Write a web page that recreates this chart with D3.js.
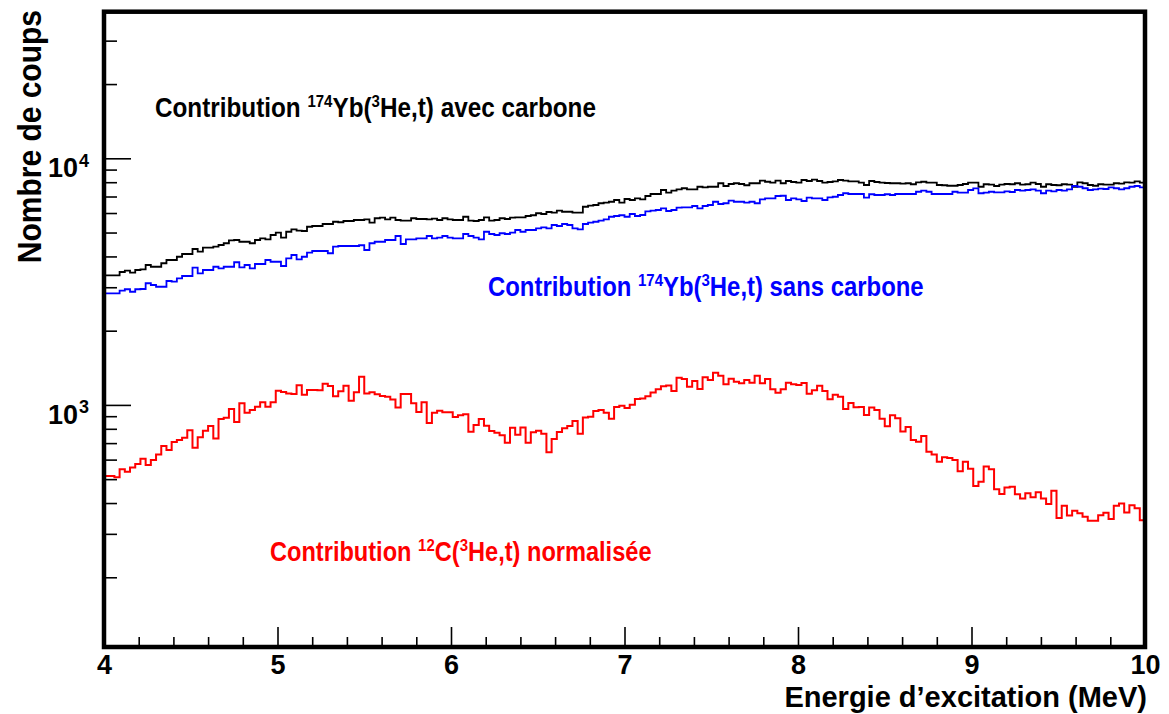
<!DOCTYPE html>
<html><head><meta charset="utf-8">
<script src="https://cdn.jsdelivr.net/npm/d3@7"></script>
<style>
body{margin:0;background:#fff}
text{font-family:"Liberation Sans",Arial,Helvetica,sans-serif;font-weight:bold}
</style>
</head><body><svg id="c" width="1169" height="714"></svg>
<script>
// ---- data ----
const energyMin = 4, energyMax = 10, nBins = 200;
const xTickValues = [4, 5, 6, 7, 8, 9, 10];
const yMajorTicks = [1000, 10000];
const yMinorTicks = [200,300,400,500,600,700,800,900,2000,3000,4000,5000,6000,7000,8000,9000,20000,30000];
const labelBlack = ["Contribution ", "174", "Yb(", "3", "He,t) avec carbone"];
const labelBlue  = ["Contribution ", "174", "Yb(", "3", "He,t) sans carbone"];
const labelRed   = ["Contribution ", "12", "C(", "3", "He,t) normalisée"];

const blackCounts = [
3354,3354,3354,3459,3501,3436,3524,3548,3693,3633,
3633,3753,3869,3869,3989,4093,4093,4288,4180,4342,
4342,4380,4451,4524,4650,4664,4589,4589,4524,4664,
4736,4695,4887,4992,4772,5038,5154,5087,5072,5278,
5315,5315,5415,5415,5531,5503,5569,5569,5621,5621,
5659,5480,5714,5745,5659,5745,5621,5584,5584,5714,
5674,5674,5659,5690,5621,5714,5659,5621,5621,5795,
5584,5569,5621,5764,5584,5621,5714,5674,5745,5764,
5764,5835,5875,5986,5945,6057,6017,6131,6072,6072,
6017,6017,6362,6423,6466,6572,6606,6667,6775,6606,
6839,6775,6880,6821,7033,7166,7166,7438,7252,7390,
7488,7562,7488,7488,7668,7627,7668,7668,7921,7722,
7867,7921,7867,7774,7921,7921,8113,8035,7962,8113,
7921,8090,8015,7962,8166,8090,8189,8090,7962,8015,
8068,8166,8113,8068,8068,7962,7794,8090,8015,7962,
7941,7921,7921,7888,7921,7848,7994,8035,7962,7962,
7794,7774,7741,7741,7794,7867,7962,7962,7668,7848,
7815,7722,7815,7867,7848,7921,7815,7848,7962,7867,
7668,7848,7794,7774,7848,7815,7668,7994,7921,7794,
7741,7848,7815,7815,7921,7888,7994,7962,8068,7962];

const blueCounts = [
2835,2835,2835,2905,2944,2877,2944,2951,3114,3064,
3014,3014,3180,3159,3260,3332,3332,3602,3418,3524,
3524,3633,3575,3633,3633,3788,3614,3693,3575,3727,
3727,3869,3807,3807,3659,3929,4054,3895,3989,4142,
4208,4208,4208,4121,4380,4410,4410,4410,4410,4440,
4248,4524,4589,4589,4664,4664,4841,4493,4695,4695,
4736,4736,4841,4736,4772,4841,4772,4736,4736,4933,
4841,4772,4695,5038,4933,4887,4966,4933,4992,5120,
5038,5120,5120,5199,5250,5199,5365,5315,5415,5365,
5199,5154,5415,5480,5531,5584,5659,5795,5835,5875,
5795,5945,5835,5890,6097,6131,6171,6267,6114,6171,
6308,6328,6328,6406,6267,6406,6466,6667,6527,6572,
6731,6667,6667,6606,6667,6572,6821,6880,6880,7033,
7051,6775,6880,6821,6712,6925,6880,6880,6775,6947,
6984,7099,7215,7166,7166,7166,6925,7148,7099,7099,
7148,7099,7166,7166,7166,7166,7319,7390,7319,7166,
7166,7166,7166,7319,7252,7252,7438,7554,7215,7252,
7319,7282,7282,7349,7300,7438,7390,7438,7488,7390,
7215,7390,7349,7438,7390,7488,7722,7668,7562,7438,
7488,7529,7508,7627,7562,7488,7562,7668,7722,7627];

const redCounts = [
515,515,509,548,536,557,576,605,571,598,
630,682,656,708,721,736,789,671,739,786,
822,731,876,887,963,853,1015,929,953,984,
1025,984,1025,1142,1128,1113,1107,1201,1100,1149,
1149,1146,1219,1193,1083,1135,1196,1040,1125,1301,
1113,1125,1104,1087,1080,1053,975,1107,1107,1015,
935,1025,845,929,947,933,933,893,907,916,
778,829,876,824,784,771,753,703,807,757,
809,703,774,786,764,642,728,776,804,822,
861,764,890,895,944,953,929,879,981,993,
972,1002,1056,1062,1083,1123,1157,1190,1199,1138,
1289,1273,1185,1250,1160,1294,1262,1350,1312,1213,
1277,1242,1224,1262,1230,1312,1224,1273,1157,1120,
1157,1230,1213,1204,1227,1110,1146,1196,1138,1054,
1100,1080,963,1018,978,981,910,976,953,879,
820,907,882,780,813,720,709,748,646,630,
588,613,609,598,538,588,551,469,488,562,
548,455,435,462,466,434,417,438,422,442,
417,396,449,348,390,356,372,364,352,339,
339,357,365,345,390,398,366,392,381,341];

// ---- layout ----
const L = 104, R = 1145, T = 11.7, B = 647;
const svg = d3.select("#c");
const x = d3.scaleLinear().domain([energyMin, energyMax]).range([L, R]);
const y = d3.scaleLog().domain([104.3, 39310]).range([B, T]);

svg.append("clipPath").attr("id","clip").append("rect")
  .attr("x", L).attr("y", T).attr("width", R - L).attr("height", B - T);

const binW = (energyMax - energyMin) / nBins;
function histPath(counts) {
  const pts = counts.map((c, i) => [energyMin + i * binW, c]);
  pts.push([energyMax, counts[counts.length - 1]]);
  return d3.line().x(d => x(d[0])).y(d => y(d[1])).curve(d3.curveStepAfter)(pts);
}
const gH = svg.append("g").attr("clip-path", "url(#clip)");
gH.append("path").attr("d", histPath(blackCounts)).attr("fill","none").attr("stroke","#000").attr("stroke-width",1.8);
gH.append("path").attr("d", histPath(blueCounts)).attr("fill","none").attr("stroke","#0000ff").attr("stroke-width",1.8);
gH.append("path").attr("d", histPath(redCounts)).attr("fill","none").attr("stroke","#ff0000").attr("stroke-width",2);

// ---- axes ----
const xMinor = d3.range(0, 31).map(i => energyMin + i * 0.2).filter(v => Math.abs(v - Math.round(v)) > 1e-6);
const gxMinor = svg.append("g").attr("transform", `translate(0,${B})`)
  .call(d3.axisBottom(x).tickValues(xMinor).tickSizeInner(-10).tickSizeOuter(0).tickFormat(""));
const gxMajor = svg.append("g").attr("transform", `translate(0,${B})`)
  .call(d3.axisBottom(x).tickValues(xTickValues).tickSizeInner(-20).tickSizeOuter(0).tickPadding(11).tickFormat(d3.format("d")));
const gyMinor = svg.append("g").attr("transform", `translate(${L},0)`)
  .call(d3.axisLeft(y).tickValues(yMinorTicks).tickSizeInner(-13).tickSizeOuter(0).tickFormat(""));
const gyMajor = svg.append("g").attr("transform", `translate(${L},0)`)
  .call(d3.axisLeft(y).tickValues(yMajorTicks).tickSizeInner(-27).tickSizeOuter(0).tickFormat(""));
[gxMinor, gxMajor, gyMinor, gyMajor].forEach(g => {
  g.select(".domain").remove();
  g.selectAll(".tick line").attr("stroke", "#000").attr("stroke-width", 1.6);
});
gxMajor.selectAll(".tick text")
  .attr("font-size", 27).attr("fill", "#000").attr("y", 27).attr("dy", 0)
  .style("font-family", '"Liberation Sans",Arial,sans-serif').style("font-weight", "bold");

// y tick labels 10^n
yMajorTicks.forEach(v => {
  const yy = y(v);
  svg.append("text").attr("x", 78).attr("y", yy + 19).attr("text-anchor", "end")
    .attr("font-size", 27).attr("fill", "#000").text("10");
  svg.append("text").attr("x", 79).attr("y", yy + 8.5).attr("font-size", 18).attr("fill", "#000")
    .text(String(Math.round(Math.log10(v))));
});

// frame
svg.append("rect").attr("x", L).attr("y", T).attr("width", R - L).attr("height", B - T)
  .attr("fill", "none").attr("stroke", "#000").attr("stroke-width", 4.5);

// axis titles
svg.append("text").attr("x", 1147).attr("y", 707).attr("text-anchor", "end")
  .attr("font-size", 29).attr("fill", "#000").text("Energie d’excitation (MeV)");
svg.append("text").attr("transform", "translate(41,10) rotate(-90) scale(1,1.1)").attr("text-anchor", "end")
  .attr("font-size", 30).attr("fill", "#000").text("Nombre de coups");

// annotations
function label(parts, x0, y0, color, fs) {
  const t = svg.append("text").attr("transform", `translate(${x0},${y0}) scale(1,1.15)`)
    .attr("fill", color).attr("font-size", fs);
  parts.forEach((p, i) => {
    const sup = (i % 2 === 1);
    t.append("tspan").attr("font-size", sup ? 15 : fs)
      .attr("dy", i === 0 ? 0 : (sup ? -8.5 : 8.5)).text(p);
  });
}
label(labelBlack, 155, 117, "#000", 24.3);
label(labelBlue, 488, 296, "#0000ff", 23.9);
label(labelRed, 270, 561, "#ff0000", 23.6);
</script>
</body></html>
